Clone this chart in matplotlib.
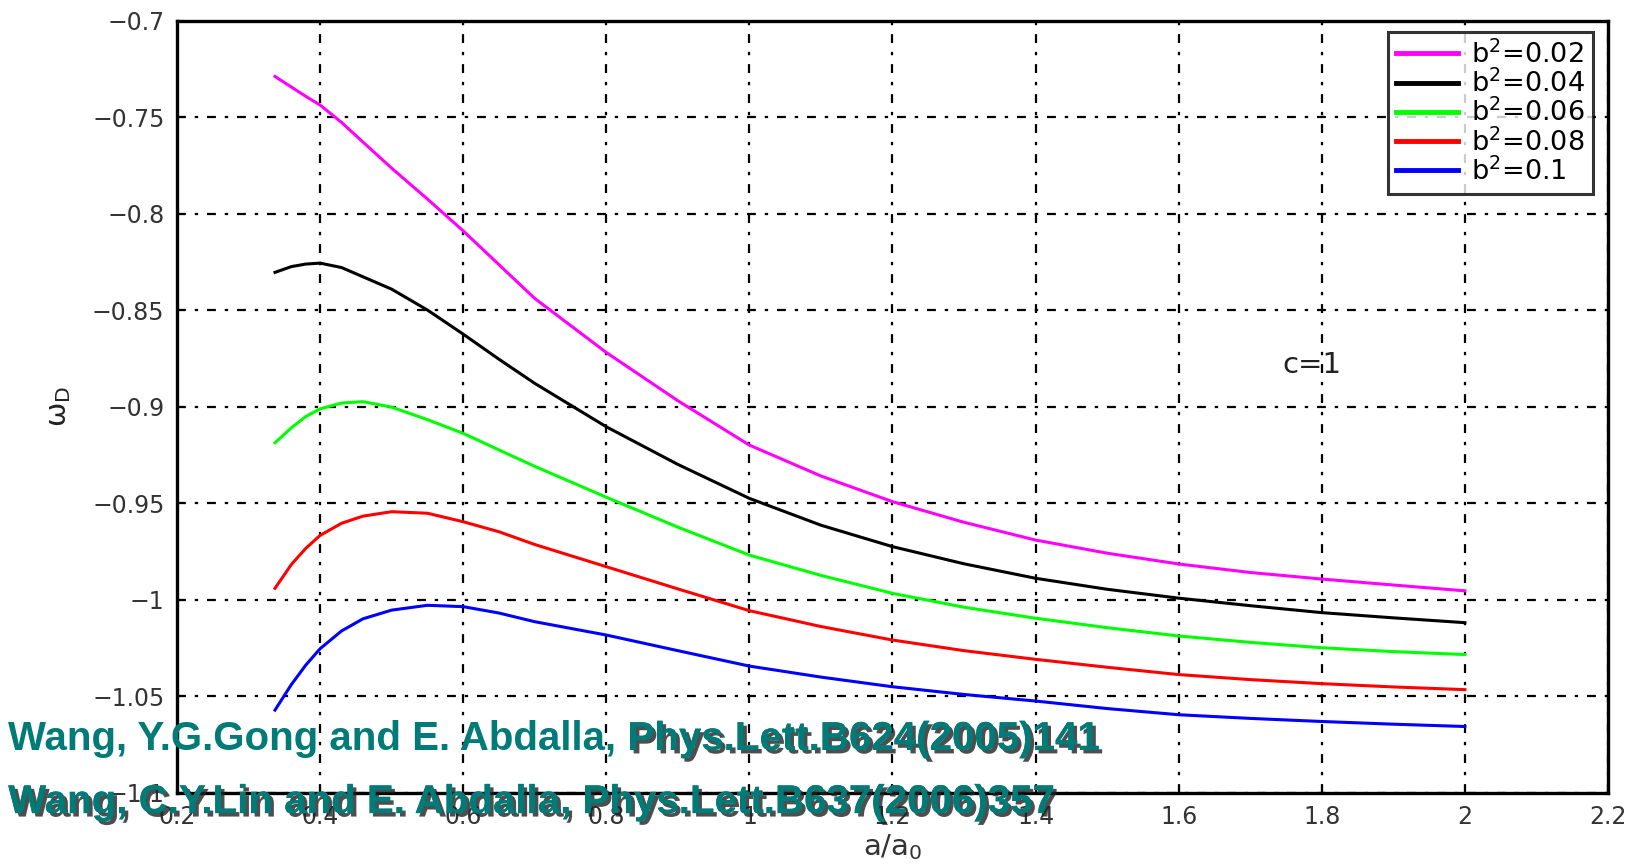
import numpy as np
import matplotlib
matplotlib.use('Agg')
import matplotlib.pyplot as plt
import matplotlib.patheffects as pe

# a/a0 sample points
x = [0.337, 0.36, 0.38, 0.4, 0.43, 0.46, 0.5, 0.55, 0.6, 0.65, 0.7, 0.8, 0.9,
     1.0, 1.1, 1.2, 1.3, 1.4, 1.5, 1.6, 1.7, 1.8, 1.9, 2.0]

w_002 = [-0.7290, -0.7345, -0.7393, -0.7438, -0.7528, -0.7630, -0.7765, -0.7925,
         -0.8090, -0.8265, -0.8440, -0.8720, -0.8970, -0.9200, -0.9360, -0.9493,
         -0.9600, -0.9692, -0.9760, -0.9816, -0.9860, -0.9894, -0.9925, -0.9955]
w_004 = [-0.8305, -0.8275, -0.8262, -0.8257, -0.8280, -0.8328, -0.8392, -0.8500,
         -0.8625, -0.8755, -0.8880, -0.9105, -0.9300, -0.9476, -0.9615, -0.9726,
         -0.9815, -0.9890, -0.9947, -0.9993, -1.0032, -1.0068, -1.0095, -1.0120]
w_006 = [-0.9188, -0.9110, -0.9052, -0.9012, -0.8982, -0.8975, -0.9003, -0.9068,
         -0.9139, -0.9225, -0.9310, -0.9470, -0.9625, -0.9770, -0.9875, -0.9968,
         -1.0040, -1.0097, -1.0146, -1.0189, -1.0222, -1.0250, -1.0270, -1.0285]
w_008 = [-0.9942, -0.9818, -0.9735, -0.9668, -0.9605, -0.9568, -0.9545, -0.9553,
         -0.9597, -0.9649, -0.9715, -0.9830, -0.9945, -1.0058, -1.0140, -1.0210,
         -1.0265, -1.0310, -1.0351, -1.0389, -1.0415, -1.0436, -1.0453, -1.0467]
w_010 = [-1.0573, -1.0440, -1.0340, -1.0255, -1.0163, -1.0100, -1.0055, -1.0030,
         -1.0037, -1.0070, -1.0115, -1.0184, -1.0265, -1.0345, -1.0402, -1.0452,
         -1.0492, -1.0526, -1.0565, -1.0597, -1.0616, -1.0632, -1.0646, -1.0658]

series = [w_002, w_004, w_006, w_008, w_010]
labels = [r'b$^2$=0.02', r'b$^2$=0.04', r'b$^2$=0.06', r'b$^2$=0.08', r'b$^2$=0.1']
colors = ['#ff00ff', '#000000', '#00ff00', '#ff0000', '#0000ff']

xticks = [0.2, 0.4, 0.6, 0.8, 1.0, 1.2, 1.4, 1.6, 1.8, 2.0, 2.2]
xticklabels = ['0.2', '0.4', '0.6', '0.8', '1', '1.2', '1.4', '1.6', '1.8', '2', '2.2']
yticks = [-1.1, -1.05, -1.0, -0.95, -0.9, -0.85, -0.8, -0.75, -0.7]
yticklabels = ['\u22121.1', '\u22121.05', '\u22121', '\u22120.95', '\u22120.9',
               '\u22120.85', '\u22120.8', '\u22120.75', '\u22120.7']

refs1a = 'Wang, Y.G.Gong and E. Abdalla, '
refs1b = 'Phys.Lett.B624(2005)141'
refs2 = 'Wang, C.Y.Lin and E. Abdalla, Phys.Lett.B637(2006)357'

plt.rcParams['font.family'] = ['DejaVu Sans']
plt.rcParams['mathtext.default'] = 'regular'

fig = plt.figure(figsize=(16.34, 8.65), dpi=100)
ax = fig.add_axes([0.1083, 0.0838, 0.8758, 0.8925])

for ys, lab, c in zip(series, labels, colors):
    ax.plot(x, ys, color=c, lw=2.2, label=lab)

ax.set_xlim(0.2, 2.2)
ax.set_ylim(-1.1, -0.7)
ax.set_xticks(xticks)
ax.set_xticklabels(xticklabels)
ax.set_yticks(yticks)
ax.set_yticklabels(yticklabels)
ax.tick_params(direction='in', length=6, width=1.5, labelsize=17,
               labelcolor='#333333', pad=9)
ax.grid(True, color='black', lw=1.6, ls=(0, (4, 4, 1.5, 4)))
for s in ax.spines.values():
    s.set_linewidth(2.4)

ax.set_xlabel(r'a/a$_0$', fontsize=21, color='#333333', labelpad=2)
ax.set_ylabel(r'$\omega_D$', fontsize=21, color='#222222', labelpad=14)

ax.text(1.745, -0.8785, 'c=1', fontsize=21, va='center', color='#222222')

leg = ax.legend(loc='upper right', bbox_to_anchor=(0.9895, 0.985), borderaxespad=0,
                fontsize=19.5, frameon=True, fancybox=False, handlelength=2.3,
                handletextpad=0.46, labelspacing=0.03, borderpad=0.3)
leg.get_frame().set_edgecolor('black')
leg.get_frame().set_linewidth(2.2)
for ln in leg.get_lines():
    ln.set_linewidth(3.5)

teal = '#007b78'
shadow = [pe.withSimplePatchShadow(offset=(2.5, -2.5), shadow_rgbFace='#222222', alpha=0.8),
          pe.Normal()]
fam = ['Liberation Sans Narrow', 'Liberation Sans', 'DejaVu Sans']
t1 = fig.text(0.005, 0.133, refs1a, fontsize=29, color=teal, fontweight='bold',
              family=fam, va='baseline')
ax.annotate(refs1b, xy=(1, 0), xycoords=t1, va='bottom', ha='left', fontsize=29,
            color=teal, fontweight='bold', family=fam, path_effects=shadow,
            annotation_clip=False)
fig.text(0.005, 0.060, refs2, fontsize=29, color=teal, fontweight='bold',
         family=fam, va='baseline', path_effects=shadow)

fig.savefig('out.png', dpi=100)
